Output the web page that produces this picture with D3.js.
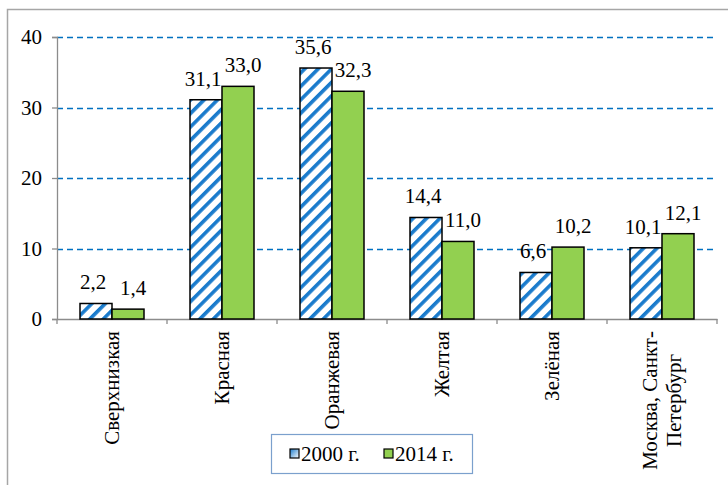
<!DOCTYPE html>
<html>
<head>
<meta charset="utf-8">
<script src="https://cdn.jsdelivr.net/npm/d3@7"></script>
</head>
<body style="margin:0">
<script>
// chart size
const width = 728;
const height = 485;
const margin = {left: 57, right: 11, top: 37, bottom: 166};
const fontFam = `"Liberation Serif"`;
const fs = 21;

// data
const categories = ["Сверхнизкая", "Красная", "Оранжевая", "Желтая", "Зелёная", "Москва, Санкт-|Петербург"];
const series = ["2000 г.", "2014 г."];
const values2000 = [2.2, 31.1, 35.6, 14.4, 6.6, 10.1];
const values2014 = [1.4, 33.0, 32.3, 11.0, 10.2, 12.1];
const yTicks = [0, 10, 20, 30, 40];

const data = categories.map((c, i) => ({cat: c, vals: [values2000[i], values2014[i]]}));

const svg = d3.select("body")
  .append("svg")
  .attr("width", width)
  .attr("height", height);

// hatch pattern for 2000
const defs = svg.append("defs");
const pat = defs.append("pattern")
  .attr("id", "hatch")
  .attr("patternUnits", "userSpaceOnUse")
  .attr("width", 9.5).attr("height", 9.5)
  .attr("patternTransform", "rotate(45)");
pat.append("rect").attr("width", 9.5).attr("height", 9.5).attr("fill", "#fff");
pat.append("rect").attr("x", 0).attr("width", 3.6).attr("height", 9.5).attr("fill", "#1a7bcc");

const grad = defs.append("linearGradient").attr("id", "legGrad")
  .attr("x1", 0).attr("y1", 0).attr("x2", 1).attr("y2", 1);
grad.append("stop").attr("offset", "0%").attr("stop-color", "#1a7bcc");
grad.append("stop").attr("offset", "100%").attr("stop-color", "#fff");

// outer frame (right and bottom edges run off the picture)
svg.append("rect")
  .attr("x", 7.5).attr("y", 9.5)
  .attr("width", 740).attr("height", 500)
  .attr("fill", "none")
  .attr("stroke", "#a6a6a6")
  .attr("stroke-width", 1.5);

const x0 = d3.scaleBand()
  .domain(categories)
  .range([margin.left, width - margin.right])
  .paddingInner(0).paddingOuter(0);

const x1 = d3.scaleBand()
  .domain([0, 1])
  .range([23, x0.bandwidth() - 23]);

const y = d3.scaleLinear()
  .domain([0, 40])
  .range([height - margin.bottom, margin.top]);

// grid
svg.append("g")
  .selectAll("line")
  .data(yTicks.filter(d => d > 0))
  .join("line")
  .attr("x1", margin.left)
  .attr("x2", width - margin.right)
  .attr("y1", d => Math.round(y(d)) + 0.5)
  .attr("y2", d => Math.round(y(d)) + 0.5)
  .attr("stroke", "#0070c0")
  .attr("stroke-width", 1.5)
  .attr("stroke-dasharray", "6,4");

// y axis (lines only, labels drawn as plain text below)
const yAxis = svg.append("g")
  .attr("transform", `translate(${margin.left},0)`)
  .call(d3.axisLeft(y).tickValues(yTicks).tickSize(5).tickFormat(""));
yAxis.selectAll("line, path").attr("stroke", "#8c8c8c").attr("stroke-width", 1.3);

svg.selectAll(".ylab")
  .data(yTicks)
  .join("text")
  .attr("class", "ylab")
  .attr("x", margin.left - 15)
  .attr("y", d => y(d) + 7)
  .attr("text-anchor", "end")
  .attr("font-size", fs)
  .style("font-family", fontFam)
  .attr("fill", "#000")
  .text(d => d);

// x axis
const xAxis = svg.append("g")
  .attr("transform", `translate(0,${y(0)})`)
  .call(d3.axisBottom(x0).tickSize(0).tickFormat(""));
xAxis.select("path").attr("stroke", "#8c8c8c").attr("stroke-width", 1.3);
xAxis.selectAll(".sep")
  .data(categories.map(c => x0(c)).concat([width - margin.right]))
  .join("line")
  .attr("class", "sep")
  .attr("x1", d => d).attr("x2", d => d)
  .attr("y1", 0).attr("y2", 5)
  .attr("stroke", "#8c8c8c").attr("stroke-width", 1.3);

// category labels, rotated
const labY = y(0) + 12;
const lh = 24;
categories.forEach(c => {
  const lines = c.split("|");
  const cx = x0(c) + x0.bandwidth() / 2;
  lines.forEach((ln, k) => {
    const off = (k - (lines.length - 1) / 2) * lh + 7;
    svg.append("text")
      .attr("transform", `translate(${cx + off},${labY}) rotate(-90)`)
      .attr("text-anchor", "end")
      .attr("font-size", fs)
      .style("font-family", fontFam)
      .attr("fill", "#000")
      .attr("class", "cl" + k)
      .text(ln);
  });
});

// bars
const groups = svg.append("g")
  .selectAll("g")
  .data(data)
  .join("g")
  .attr("transform", d => `translate(${x0(d.cat)},0)`);

groups.selectAll("rect")
  .data(d => d.vals.map((v, i) => ({v, i})))
  .join("rect")
  .attr("x", d => x1(d.i))
  .attr("y", d => y(d.v))
  .attr("width", x1.bandwidth())
  .attr("height", d => y(0) - y(d.v))
  .attr("fill", d => d.i === 0 ? "url(#hatch)" : "#92d050")
  .attr("stroke", "#000")
  .attr("stroke-width", 1.5);

// value labels
data.forEach(d => {
  d.vals.forEach((v, i) => {
    svg.append("text")
      .attr("x", x0(d.cat) + x1(i) + x1.bandwidth() / 2 + (i === 0 ? -3 : 5))
      .attr("y", y(v) - 14)
      .attr("text-anchor", "middle")
      .attr("font-size", fs)
      .style("font-family", fontFam)
      .attr("fill", "#000")
      .text(v.toFixed(1).replace(".", ","));
  });
});

// legend
const leg = svg.append("g").attr("transform", "translate(271,434)");
leg.append("rect")
  .attr("x", 0.5).attr("y", 0.5)
  .attr("width", 201).attr("height", 39)
  .attr("fill", "#fff")
  .attr("stroke", "#7ba0cd")
  .attr("stroke-width", 1.2);
const legX = [19, 113];
series.forEach((s, i) => {
  leg.append("rect")
    .attr("x", legX[i]).attr("y", 15)
    .attr("width", 9).attr("height", 9)
    .attr("fill", i === 0 ? "url(#legGrad)" : "#92d050")
    .attr("stroke", "#000")
    .attr("stroke-width", 1.2);
  leg.append("text")
    .attr("x", legX[i] + 11)
    .attr("y", 27)
    .attr("font-size", fs)
    .style("font-family", fontFam)
    .attr("fill", "#000")
    .text(s);
});

// centre the short line of the two-line label once fonts are ready
document.fonts.ready.then(() => {
  const longNode = svg.selectAll(".cl0").filter((d, i, n) => n[i].textContent.includes("Санкт")).node();
  const shortSel = svg.selectAll(".cl1");
  if (longNode && !shortSel.empty()) {
    const L = longNode.getComputedTextLength();
    const S = shortSel.node().getComputedTextLength();
    const tr = shortSel.attr("transform") + ` translate(${-(L - S) / 2},0)`;
    shortSel.attr("transform", tr);
  }
});
</script>
</body>
</html>
